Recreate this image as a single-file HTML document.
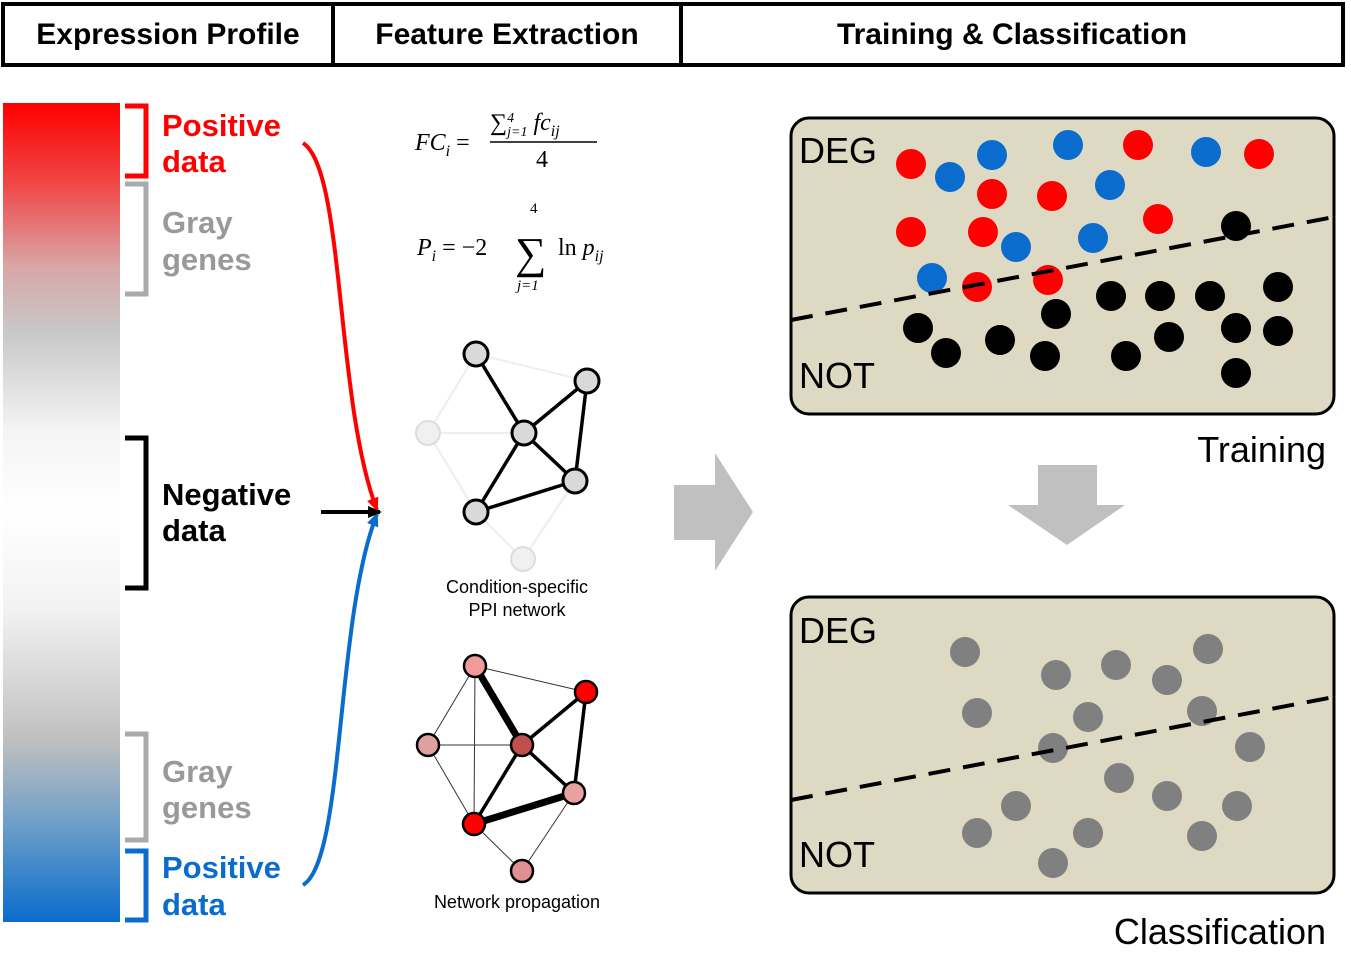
<!DOCTYPE html>
<html><head><meta charset="utf-8"><style>
body{margin:0;background:#fff;}
svg{display:block;font-family:"Liberation Sans","DejaVu Sans",sans-serif;}
</style></head><body>
<svg width="1351" height="975" viewBox="0 0 1351 975">
<defs>
<linearGradient id="g" x1="0" y1="0" x2="0" y2="1">
<stop offset="0" stop-color="#ff0000"/><stop offset="0.1" stop-color="#f04848"/><stop offset="0.2" stop-color="#d9a6a6"/><stop offset="0.28" stop-color="#c8c8c8"/><stop offset="0.4" stop-color="#f4f4f4"/><stop offset="0.5" stop-color="#ffffff"/><stop offset="0.62" stop-color="#f2f2f2"/><stop offset="0.78" stop-color="#bfbfbf"/><stop offset="0.88" stop-color="#6e9fc8"/><stop offset="1" stop-color="#0a6ccc"/>
</linearGradient>
<marker id="ar" markerUnits="userSpaceOnUse" markerWidth="14" markerHeight="14" refX="12" refY="7" orient="auto"><path d="M0,1L14,7L0,13z" fill="#f00"/></marker>
<marker id="ab" markerUnits="userSpaceOnUse" markerWidth="14" markerHeight="14" refX="12" refY="7" orient="auto"><path d="M0,1L14,7L0,13z" fill="#0a6ccc"/></marker>
<marker id="ak" markerUnits="userSpaceOnUse" markerWidth="14" markerHeight="14" refX="12" refY="7" orient="auto"><path d="M0,1L14,7L0,13z" fill="#000"/></marker>
</defs>
<g font-size="30" font-weight="bold" text-anchor="middle">
<rect x="3" y="4" width="1340" height="61" fill="none" stroke="#000" stroke-width="4"/>
<line x1="333" y1="4" x2="333" y2="65" stroke="#000" stroke-width="4"/>
<line x1="681" y1="4" x2="681" y2="65" stroke="#000" stroke-width="4"/>
<text x="168" y="44">Expression Profile</text>
<text x="507" y="44">Feature Extraction</text>
<text x="1012" y="44">Training &amp; Classification</text>
</g>
<rect x="3" y="103" width="117" height="819" fill="url(#g)"/>
<g fill="none" stroke-width="5">
<path d="M125,106H146V176H125" stroke="#f00"/>
<path d="M125,184H146V294H125" stroke="#aaa"/>
<path d="M125,438H146V588H125" stroke="#000"/>
<path d="M125,734H146V840H125" stroke="#aaa"/>
<path d="M125,851H146V920H125" stroke="#0a6ccc"/>
</g>
<g font-size="31" font-weight="bold">
<text x="162" y="136" fill="#f00">Positive</text><text x="162" y="172" fill="#f00">data</text>
<text x="162" y="233" fill="#999">Gray</text><text x="162" y="270" fill="#999">genes</text>
<text x="162" y="505" fill="#000">Negative</text><text x="162" y="541" fill="#000">data</text>
<text x="162" y="782" fill="#999">Gray</text><text x="162" y="818" fill="#999">genes</text>
<text x="162" y="878" fill="#0a6ccc">Positive</text><text x="162" y="915" fill="#0a6ccc">data</text>
</g>
<path d="M303,143C345,170 335,400 377,510" fill="none" stroke="#f00" stroke-width="4" marker-end="url(#ar)"/>
<path d="M303,885C345,860 335,620 377,514" fill="none" stroke="#0a6ccc" stroke-width="4" marker-end="url(#ab)"/>
<line x1="321" y1="512" x2="380" y2="512" stroke="#000" stroke-width="4" marker-end="url(#ak)"/>
<g font-family="Liberation Serif,serif" font-style="italic" font-size="24">
<text x="415" y="150">FC<tspan font-size="16" dy="6">i</tspan><tspan dy="-6" font-style="normal"> =</tspan></text>
<text x="490" y="130">∑<tspan font-size="14" dy="-8">4</tspan><tspan font-size="14" dx="-7" dy="14">j=1</tspan><tspan dy="-6"> fc</tspan><tspan font-size="16" dy="6">ij</tspan></text>
<line x1="490" y1="142" x2="597" y2="142" stroke="#000" stroke-width="1.5"/>
<text x="536" y="167" font-style="normal">4</text>
<text x="417" y="255">P<tspan font-size="16" dy="6">i</tspan><tspan dy="-6" font-style="normal"> = −2</tspan></text>
<text x="515" y="268" font-size="44" font-style="normal">∑</text>
<text x="530" y="213" font-size="15" font-style="normal">4</text>
<text x="517" y="290" font-size="15">j=1</text>
<text x="558" y="255"><tspan font-style="normal">ln </tspan>p<tspan font-size="16" dy="6">ij</tspan></text>
</g>
<g>
<g stroke="#eee" stroke-width="2"><line x1="428" y1="433" x2="476" y2="354"/><line x1="428" y1="433" x2="524" y2="433"/><line x1="428" y1="433" x2="476" y2="512"/><line x1="523" y1="559" x2="476" y2="512"/><line x1="523" y1="559" x2="575" y2="481"/><line x1="476" y1="354" x2="587" y2="381"/></g>
<g stroke="#000" stroke-width="3.5"><line x1="476" y1="354" x2="524" y2="433"/><line x1="524" y1="433" x2="587" y2="381"/><line x1="524" y1="433" x2="575" y2="481"/><line x1="587" y1="381" x2="575" y2="481"/><line x1="524" y1="433" x2="476" y2="512"/><line x1="476" y1="512" x2="575" y2="481"/></g>
<g fill="#d9d9d9" stroke="#000" stroke-width="3"><circle cx="476" cy="354" r="12"/><circle cx="587" cy="381" r="12"/><circle cx="524" cy="433" r="12"/><circle cx="575" cy="481" r="12"/><circle cx="476" cy="512" r="12"/></g>
<g fill="#f0f0f0" stroke="#ddd" stroke-width="2"><circle cx="428" cy="433" r="12"/><circle cx="523" cy="559" r="12"/></g>
<text x="517" y="593" font-size="18" text-anchor="middle">Condition-specific</text>
<text x="517" y="616" font-size="18" text-anchor="middle">PPI network</text>
</g>
<g>
<g stroke="#333" stroke-width="1"><line x1="475" y1="666" x2="586" y2="692"/><line x1="428" y1="745" x2="475" y2="666"/><line x1="428" y1="745" x2="522" y2="745"/><line x1="428" y1="745" x2="474" y2="824"/><line x1="475" y1="666" x2="474" y2="824"/><line x1="474" y1="824" x2="522" y2="871"/><line x1="574" y1="793" x2="522" y2="871"/></g>
<g stroke="#000" stroke-width="3.5"><line x1="522" y1="745" x2="586" y2="692"/><line x1="586" y1="692" x2="574" y2="793"/><line x1="522" y1="745" x2="574" y2="793"/><line x1="522" y1="745" x2="474" y2="824"/></g>
<g stroke="#000" stroke-width="7"><line x1="475" y1="666" x2="522" y2="745"/><line x1="474" y1="824" x2="574" y2="793"/></g>
<g stroke="#000" stroke-width="2.5"><circle cx="475" cy="666" r="11" fill="#f09a9a"/><circle cx="586" cy="692" r="11" fill="#f00"/><circle cx="522" cy="745" r="11" fill="#c0504d"/><circle cx="574" cy="793" r="11" fill="#e8a0a0"/><circle cx="474" cy="824" r="11" fill="#f00"/><circle cx="428" cy="745" r="11" fill="#e0a0a0"/><circle cx="522" cy="871" r="11" fill="#e09090"/></g>
<text x="517" y="908" font-size="18" text-anchor="middle">Network propagation</text>
</g>
<path d="M674,485H715V453L753,512L715,571V540H674Z" fill="#c0c0c0"/>
<path d="M1038,465H1097V505H1125L1067,545L1008,505H1038Z" fill="#c0c0c0"/>
<g>
<rect x="791" y="118" width="543" height="296" rx="18" fill="#ddd9c3" stroke="#000" stroke-width="3"/>
<g id="train"></g>
<line x1="791" y1="320" x2="1334" y2="217" stroke="#000" stroke-width="4" stroke-dasharray="22,13"/>
<text x="799" y="163" font-size="36">DEG</text><text x="799" y="388" font-size="36">NOT</text>
<text x="1326" y="462" font-size="36" text-anchor="end">Training</text>
</g>
<g>
<rect x="791" y="597" width="543" height="296" rx="18" fill="#ddd9c3" stroke="#000" stroke-width="3"/>
<g id="cls"></g>
<line x1="791" y1="800" x2="1334" y2="697" stroke="#000" stroke-width="4" stroke-dasharray="22,13"/>
<text x="799" y="643" font-size="36">DEG</text><text x="799" y="867" font-size="36">NOT</text>
<text x="1326" y="944" font-size="36" text-anchor="end">Classification</text>
</g>
</svg>
<script>
const redX=[911,992,1052,1138,1259,911,983,1158,977,1048];
const redY=[164,194,196,145,154,232,232,219,287,280];
const blueX=[992,950,1068,1110,1206,1016,1093,932];
const blueY=[155,177,145,185,152,247,238,278];
const blackX=[1236,1111,1160,1210,1278,1056,918,1000,1169,1236,1278,946,1045,1126,1236];
const blackY=[226,296,296,296,287,314,328,340,337,328,331,353,356,356,373];
const grayX=[965,1056,1116,1167,1208,977,1088,1202,1053,1250,1119,1167,1016,1237,977,1088,1202,1053];
const grayY=[652,675,665,680,649,713,717,711,748,747,778,796,806,806,833,833,836,863];
const NS='http://www.w3.org/2000/svg';
function dots(g,xs,ys,fill,name){
  for(let i=0;i<xs.length;i++){
    const c=document.createElementNS(NS,'circle');
    c.setAttribute('cx',xs[i]);c.setAttribute('cy',ys[i]);c.setAttribute('r',15);c.setAttribute('fill',fill);
    
    
    g.appendChild(c);
  }
}
const t=document.getElementById('train'),k=document.getElementById('cls');
dots(t,blackX,blackY,'#000','not-point');
dots(t,redX,redY,'#f00','deg-up-point');
dots(t,blueX,blueY,'#0a6ccc','deg-down-point');
dots(k,grayX,grayY,'#808080','unlabeled-point');
</script>
</body></html>
